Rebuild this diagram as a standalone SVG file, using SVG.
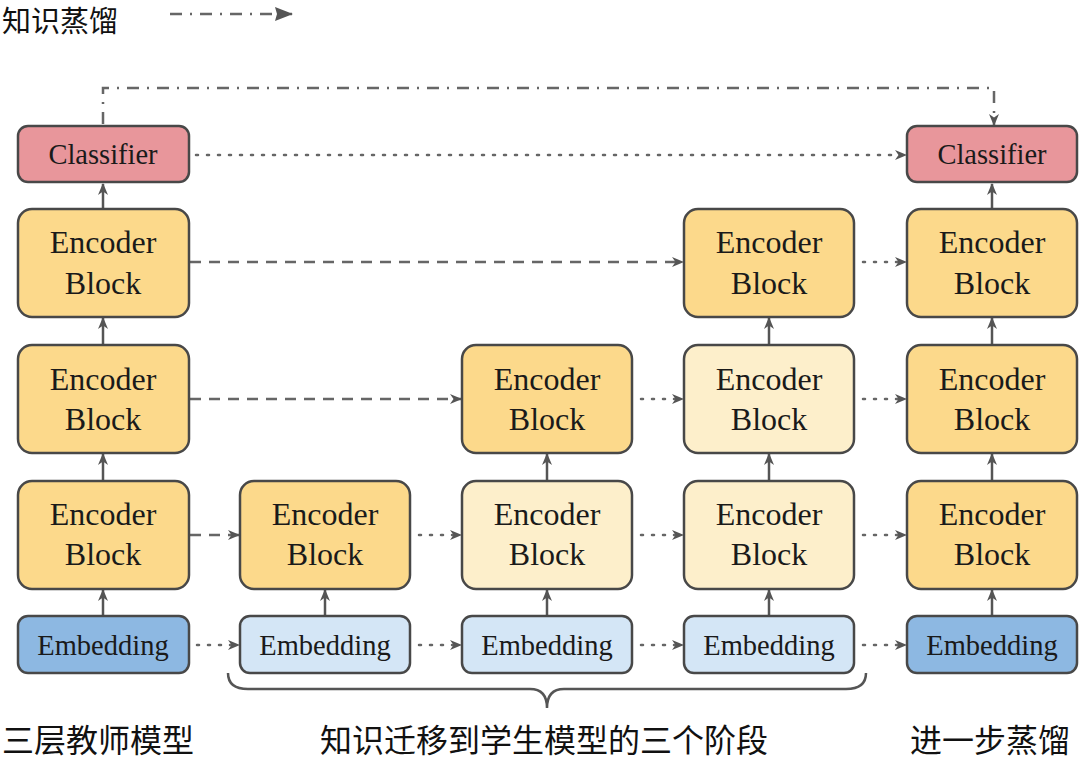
<svg xmlns="http://www.w3.org/2000/svg" width="1080" height="760" viewBox="0 0 1080 760">
<defs>
<marker id="ah" viewBox="0 0 12 10" refX="11" refY="5" markerWidth="12" markerHeight="10" markerUnits="userSpaceOnUse" orient="auto">
<path d="M0,0 L12,5 L0,10 L3.5,5 z" fill="#555"/>
</marker>
<marker id="ahf" viewBox="0 0 18 14" refX="17" refY="7" markerWidth="18" markerHeight="14" markerUnits="userSpaceOnUse" orient="auto">
<path d="M0,0 L18,7 L0,14 L2,7 z" fill="#555"/>
</marker>
<style>
.box{stroke:#484848;stroke-width:2.5}
.enc{fill:#fcd98b}
.encl{fill:#fdefcb}
.emb{fill:#8db8e2}
.embl{fill:#d4e6f6}
.cls{fill:#e8969b}
.t{font-family:"Liberation Serif","Times New Roman",serif;font-size:32px;fill:#1a1a1a;text-anchor:middle}
.ts{font-family:"Liberation Serif","Times New Roman",serif;font-size:28.5px;fill:#1a1a1a;text-anchor:middle}
.cn{font-family:"Noto Sans CJK SC","Noto Sans",sans-serif;font-size:32px;fill:#111}
.solid{stroke:#555;stroke-width:2.5;fill:none}
.dot{stroke:#666;stroke-width:2.5;fill:none;stroke-dasharray:2,9;stroke-linecap:round}
.dash{stroke:#666;stroke-width:2.5;fill:none;stroke-dasharray:11,8}
.dd{stroke:#666;stroke-width:2.5;fill:none;stroke-dasharray:12,8,2,8}
</style>
</defs>
<rect width="1080" height="760" fill="#fff"/>

<g id="legend">
<text class="cn" x="2" y="32" style="font-size:29px">知识蒸馏</text>
<line class="dd" x1="170" y1="14" x2="292" y2="14" marker-end="url(#ahf)"/>
</g>

<g id="connectors">
<path class="dd" d="M103,124 V88 H994 V125" marker-end="url(#ah)"/>
<line class="solid" x1="103" y1="616" x2="103" y2="590" marker-end="url(#ah)"/>
<line class="solid" x1="103" y1="481" x2="103" y2="454" marker-end="url(#ah)"/>
<line class="solid" x1="103" y1="345" x2="103" y2="318" marker-end="url(#ah)"/>
<line class="solid" x1="103" y1="209" x2="103" y2="184" marker-end="url(#ah)"/>
<line class="solid" x1="325" y1="616" x2="325" y2="590" marker-end="url(#ah)"/>
<line class="solid" x1="547" y1="616" x2="547" y2="590" marker-end="url(#ah)"/>
<line class="solid" x1="547" y1="481" x2="547" y2="454" marker-end="url(#ah)"/>
<line class="solid" x1="769" y1="616" x2="769" y2="590" marker-end="url(#ah)"/>
<line class="solid" x1="769" y1="481" x2="769" y2="454" marker-end="url(#ah)"/>
<line class="solid" x1="769" y1="345" x2="769" y2="318" marker-end="url(#ah)"/>
<line class="solid" x1="992" y1="616" x2="992" y2="590" marker-end="url(#ah)"/>
<line class="solid" x1="992" y1="481" x2="992" y2="454" marker-end="url(#ah)"/>
<line class="solid" x1="992" y1="345" x2="992" y2="318" marker-end="url(#ah)"/>
<line class="solid" x1="992" y1="209" x2="992" y2="184" marker-end="url(#ah)"/>
<line class="dash" x1="190" y1="262" x2="683" y2="262" marker-end="url(#ah)"/>
<line class="dash" x1="190" y1="399" x2="461" y2="399" marker-end="url(#ah)"/>
<line class="dash" x1="190" y1="535" x2="239" y2="535" marker-end="url(#ah)"/>
<line class="dot" x1="196" y1="155" x2="906" y2="155" marker-end="url(#ah)"/>
<line class="dot" x1="863" y1="262" x2="906" y2="262" marker-end="url(#ah)"/>
<line class="dot" x1="641" y1="399" x2="683" y2="399" marker-end="url(#ah)"/>
<line class="dot" x1="863" y1="399" x2="906" y2="399" marker-end="url(#ah)"/>
<line class="dot" x1="419" y1="535" x2="461" y2="535" marker-end="url(#ah)"/>
<line class="dot" x1="641" y1="535" x2="683" y2="535" marker-end="url(#ah)"/>
<line class="dot" x1="863" y1="535" x2="906" y2="535" marker-end="url(#ah)"/>
<line class="dot" x1="197" y1="645" x2="239" y2="645" marker-end="url(#ah)"/>
<line class="dot" x1="419" y1="645" x2="461" y2="645" marker-end="url(#ah)"/>
<line class="dot" x1="641" y1="645" x2="683" y2="645" marker-end="url(#ah)"/>
<line class="dot" x1="863" y1="645" x2="906" y2="645" marker-end="url(#ah)"/>
<path class="solid" d="M228,673 Q228,689 248,689 H530 Q547,689 547,708 Q547,689 564,689 H846 Q866,689 866,673"/>
</g>

<g id="teacher-classifier"><rect class="box cls" x="18" y="126" width="171" height="56" rx="10"/><text class="ts" x="103" y="164">Classifier</text></g>
<g id="teacher-enc3"><rect class="box enc" x="18" y="209" width="171" height="108" rx="14"/><text class="t" x="103" y="253">Encoder</text><text class="t" x="103" y="294">Block</text></g>
<g id="teacher-enc2"><rect class="box enc" x="18" y="345" width="171" height="108" rx="14"/><text class="t" x="103" y="390">Encoder</text><text class="t" x="103" y="430">Block</text></g>
<g id="teacher-enc1"><rect class="box enc" x="18" y="481" width="171" height="108" rx="14"/><text class="t" x="103" y="525">Encoder</text><text class="t" x="103" y="565">Block</text></g>
<g id="teacher-emb"><rect class="box emb" x="18" y="616" width="171" height="57" rx="10"/><text class="ts" x="103" y="655">Embedding</text></g>

<g id="s1-enc1"><rect class="box enc" x="240" y="481" width="170" height="108" rx="14"/><text class="t" x="325" y="525">Encoder</text><text class="t" x="325" y="565">Block</text></g>
<g id="s1-emb"><rect class="box embl" x="240" y="616" width="170" height="57" rx="10"/><text class="ts" x="325" y="655">Embedding</text></g>

<g id="s2-enc2"><rect class="box enc" x="462" y="345" width="170" height="108" rx="14"/><text class="t" x="547" y="390">Encoder</text><text class="t" x="547" y="430">Block</text></g>
<g id="s2-enc1"><rect class="box encl" x="462" y="481" width="170" height="108" rx="14"/><text class="t" x="547" y="525">Encoder</text><text class="t" x="547" y="565">Block</text></g>
<g id="s2-emb"><rect class="box embl" x="462" y="616" width="170" height="57" rx="10"/><text class="ts" x="547" y="655">Embedding</text></g>

<g id="s3-enc3"><rect class="box enc" x="684" y="209" width="170" height="108" rx="14"/><text class="t" x="769" y="253">Encoder</text><text class="t" x="769" y="294">Block</text></g>
<g id="s3-enc2"><rect class="box encl" x="684" y="345" width="170" height="108" rx="14"/><text class="t" x="769" y="390">Encoder</text><text class="t" x="769" y="430">Block</text></g>
<g id="s3-enc1"><rect class="box encl" x="684" y="481" width="170" height="108" rx="14"/><text class="t" x="769" y="525">Encoder</text><text class="t" x="769" y="565">Block</text></g>
<g id="s3-emb"><rect class="box embl" x="684" y="616" width="170" height="57" rx="10"/><text class="ts" x="769" y="655">Embedding</text></g>

<g id="final-classifier"><rect class="box cls" x="907" y="126" width="170" height="56" rx="10"/><text class="ts" x="992" y="164">Classifier</text></g>
<g id="final-enc3"><rect class="box enc" x="907" y="209" width="170" height="108" rx="14"/><text class="t" x="992" y="253">Encoder</text><text class="t" x="992" y="294">Block</text></g>
<g id="final-enc2"><rect class="box enc" x="907" y="345" width="170" height="108" rx="14"/><text class="t" x="992" y="390">Encoder</text><text class="t" x="992" y="430">Block</text></g>
<g id="final-enc1"><rect class="box enc" x="907" y="481" width="170" height="108" rx="14"/><text class="t" x="992" y="525">Encoder</text><text class="t" x="992" y="565">Block</text></g>
<g id="final-emb"><rect class="box emb" x="907" y="616" width="170" height="57" rx="10"/><text class="ts" x="992" y="655">Embedding</text></g>

<g id="labels">
<text class="cn" x="2" y="752">三层教师模型</text>
<text class="cn" x="320" y="752">知识迁移到学生模型的三个阶段</text>
<text class="cn" x="910" y="752">进一步蒸馏</text>
</g>
</svg>
